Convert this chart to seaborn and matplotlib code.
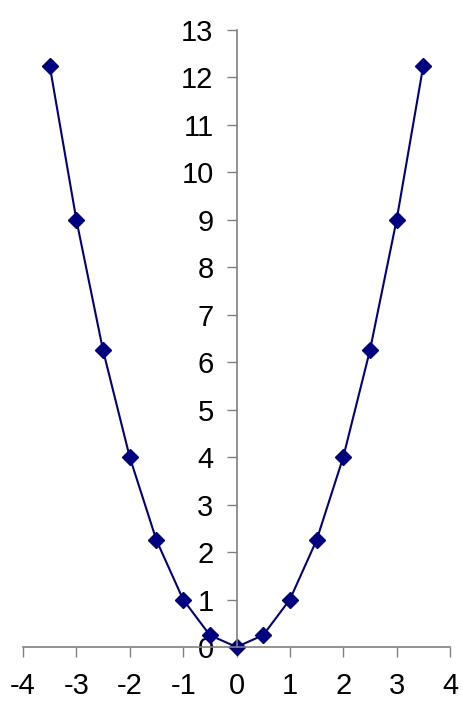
import matplotlib
matplotlib.use("Agg")
import matplotlib.pyplot as plt
import seaborn as sns
import pandas as pd

# Sample points of the parabola y = x^2
x_values = [-3.5, -3.0, -2.5, -2.0, -1.5, -1.0, -0.5, 0.0, 0.5, 1.0, 1.5, 2.0, 2.5, 3.0, 3.5]
y_values = [12.25, 9.0, 6.25, 4.0, 2.25, 1.0, 0.25, 0.0, 0.25, 1.0, 2.25, 4.0, 6.25, 9.0, 12.25]
x_ticks = [-4, -3, -2, -1, 0, 1, 2, 3, 4]
y_ticks = list(range(0, 14))

df = pd.DataFrame({"x": x_values, "y": y_values})

sns.set_style("white")
plt.rcParams["font.family"] = ["Liberation Sans", "DejaVu Sans"]

fig = plt.figure(figsize=(4.61, 7.02), dpi=100)
ax = fig.add_axes([23 / 461, 55 / 702, 427 / 461, 617 / 702])

navy = "#000080"
sns.lineplot(data=df, x="x", y="y", ax=ax, color=navy, linewidth=1.5,
             marker="D", markersize=8, markeredgecolor=navy,
             markerfacecolor=navy, markeredgewidth=1, sort=False, clip_on=False)

ax.set_xlim(-4, 4)
ax.set_ylim(0, 13)
ax.set_xticks(x_ticks)
ax.set_yticks(y_ticks)
ax.set_xticklabels([str(t) for t in x_ticks])
ax.set_yticklabels([str(t) for t in y_ticks])
ax.set_xlabel("")
ax.set_ylabel("")

grey = "#808080"
for side in ("top", "right"):
    ax.spines[side].set_visible(False)
ax.spines["left"].set_position(("data", 0))
ax.spines["bottom"].set_position(("data", 0))
for side in ("left", "bottom"):
    ax.spines[side].set_color(grey)
    ax.spines[side].set_linewidth(1.2)

ax.tick_params(axis="x", direction="out", length=7, width=1, color=grey,
               labelsize=21, pad=11, labelcolor="black", bottom=True)
ax.tick_params(axis="y", direction="out", length=7.5, width=1, color=grey,
               labelsize=21, pad=9, labelcolor="black", left=True)

fig.savefig("out.png", dpi=100)
